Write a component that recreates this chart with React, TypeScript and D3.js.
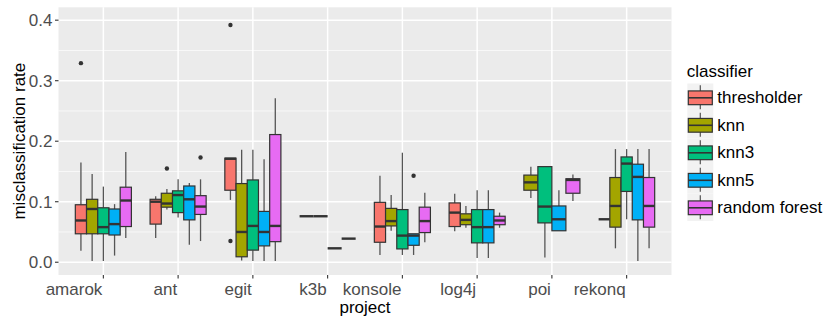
import * as d3 from "d3";

const projects = ["amarok", "ant", "egit", "k3b", "konsole", "log4j", "poi", "rekonq"];
const classifiers = ["thresholder", "knn", "knn3", "knn5", "random forest"];
const colors = ["#F8766D", "#A3A500", "#00BF7D", "#00B0F6", "#E76BF3"];

// [lower whisker, q1, median, q3, upper whisker] per project, null = no runs
const thresholder = [
  [0.019, 0.047, 0.069, 0.095, 0.165],
  [0.04, 0.063, 0.1, 0.104, 0.109],
  [0.103, 0.119, 0.171, 0.172, 0.172],
  [0.076, 0.076, 0.076, 0.076, 0.076],
  [0.012, 0.033, 0.059, 0.099, 0.143],
  [0.051, 0.059, 0.082, 0.098, 0.113],
  null,
  [0.071, 0.071, 0.071, 0.071, 0.071],
];
const knn = [
  [0.002, 0.047, 0.088, 0.104, 0.146],
  [0.087, 0.091, 0.097, 0.114, 0.121],
  [0.003, 0.009, 0.05, 0.13, 0.186],
  [0.076, 0.076, 0.076, 0.076, 0.076],
  [0.052, 0.06, 0.068, 0.089, 0.111],
  [0.057, 0.062, 0.07, 0.08, 0.093],
  [0.106, 0.119, 0.132, 0.144, 0.158],
  [0.023, 0.058, 0.093, 0.14, 0.187],
];
const knn3 = [
  [0.002, 0.047, 0.058, 0.09, 0.125],
  [0.074, 0.082, 0.111, 0.118, 0.137],
  [0.002, 0.02, 0.06, 0.136, 0.186],
  [0.023, 0.023, 0.023, 0.023, 0.023],
  [0.012, 0.022, 0.044, 0.087, 0.181],
  [0.007, 0.032, 0.058, 0.087, 0.119],
  [0.008, 0.065, 0.092, 0.158, 0.158],
  [0.071, 0.117, 0.163, 0.174, 0.187],
];
const knn5 = [
  [0.011, 0.045, 0.063, 0.088, 0.096],
  [0.029, 0.07, 0.104, 0.126, 0.131],
  [0.002, 0.027, 0.05, 0.084, 0.17],
  [0.039, 0.039, 0.039, 0.039, 0.039],
  [0.012, 0.028, 0.044, 0.047, 0.047],
  [0.007, 0.032, 0.058, 0.087, 0.119],
  [0.052, 0.052, 0.071, 0.093, 0.119],
  [0.002, 0.07, 0.141, 0.162, 0.187],
];
const randomForest = [
  [0.04, 0.059, 0.102, 0.124, 0.182],
  [0.035, 0.079, 0.092, 0.11, 0.137],
  [0.002, 0.034, 0.06, 0.211, 0.271],
  null,
  [0.033, 0.049, 0.068, 0.091, 0.115],
  [0.057, 0.062, 0.069, 0.076, 0.082],
  [0.101, 0.114, 0.136, 0.138, 0.145],
  [0.023, 0.058, 0.093, 0.14, 0.187],
];

// outliers: [project, value]
const thresholderOut = [["amarok", 0.329], ["egit", 0.392], ["egit", 0.035]];
const knnOut = [["ant", 0.155]];
const knn3Out: any[] = [];
const knn5Out = [["konsole", 0.143]];
const randomForestOut = [["ant", 0.173]];

const yTicks = [0, 0.1, 0.2, 0.3, 0.4];
const yMinor = [0.05, 0.15, 0.25, 0.35];

const series = [thresholder, knn, knn3, knn5, randomForest];
const outliers = [thresholderOut, knnOut, knn3Out, knn5Out, randomForestOut];

const W = 827;
const H = 322;
const panel = { left: 58.5, right: 671.5, top: 7.3, bottom: 275 };
const font = "'Liberation Sans', Arial, sans-serif";

const App = () => {
  const x = d3.scaleLinear().domain([0.4, 8.6]).range([panel.left, panel.right]);
  const y = d3.scaleLinear().domain([-0.0211, 0.4213]).range([panel.bottom, panel.top]);
  const unit = x(2) - x(1);

  // dodge: boxes share 0.75 of the slot among the classifiers present
  const boxes: any[] = [];
  projects.forEach((p, pi) => {
    const present = classifiers.map((c, ci) => ci).filter((ci) => series[ci][pi] != null);
    const bw = (0.75 * unit) / present.length;
    const start = x(pi + 1) - (0.75 * unit) / 2;
    present.forEach((ci, k) => {
      boxes.push({ pi, ci, x0: start + k * bw, w: bw, s: series[ci][pi] });
    });
  });

  const outPts: any[] = [];
  outliers.forEach((list, ci) => {
    list.forEach(([p, v]: any) => {
      const b = boxes.find((bb) => bb.ci === ci && projects[bb.pi] === p);
      if (b) outPts.push({ cx: b.x0 + b.w / 2, cy: y(v) });
    });
  });

  const keyX = 687.3;
  const keyW = 26;
  const keyH = 27.5;
  const keyTop = 83.5;

  return (
    <svg width={W} height={H} style={{ position: "absolute", left: 0, top: 0, background: "#fff" }}>
      <rect x={panel.left} y={panel.top} width={panel.right - panel.left} height={panel.bottom - panel.top} fill="#EBEBEB" />
      {yMinor.map((v) => (
        <line key={"mn" + v} x1={panel.left} x2={panel.right} y1={y(v)} y2={y(v)} stroke="#fff" strokeWidth={0.7} />
      ))}
      {yTicks.map((v) => (
        <line key={"mj" + v} x1={panel.left} x2={panel.right} y1={y(v)} y2={y(v)} stroke="#fff" strokeWidth={1.5} />
      ))}
      {projects.map((p, i) => (
        <line key={"vx" + p} x1={x(i + 1)} x2={x(i + 1)} y1={panel.top} y2={panel.bottom} stroke="#fff" strokeWidth={1.5} />
      ))}

      {boxes.map((b, i) => {
        const [lo, q1, med, q3, hi] = b.s;
        const cx = b.x0 + b.w / 2;
        return (
          <g key={"b" + i}>
            <line x1={cx} x2={cx} y1={y(hi)} y2={y(q3)} stroke="#555" strokeWidth={1.3} />
            <line x1={cx} x2={cx} y1={y(q1)} y2={y(lo)} stroke="#555" strokeWidth={1.3} />
            <rect x={b.x0} y={y(q3)} width={b.w} height={y(q1) - y(q3)} fill={colors[b.ci]} stroke="#333" strokeWidth={1.2} />
            <line x1={b.x0} x2={b.x0 + b.w} y1={y(med)} y2={y(med)} stroke="#333" strokeWidth={2.4} />
          </g>
        );
      })}
      {outPts.map((o, i) => (
        <circle key={"o" + i} cx={o.cx} cy={o.cy} r={2.2} fill="#333" />
      ))}

      {/* y axis */}
      {yTicks.map((v) => (
        <g key={"yt" + v}>
          <line x1={panel.left - 3.5} x2={panel.left} y1={y(v)} y2={y(v)} stroke="#333" strokeWidth={1.1} />
          <text x={panel.left - 6} y={y(v)} dy="0.35em" textAnchor="end" fontFamily={font} fontSize={17} fill="#4D4D4D">
            {d3.format(".1f")(v)}
          </text>
        </g>
      ))}
      {/* x axis: labels right-aligned on the tick */}
      {projects.map((p, i) => (
        <g key={"xt" + p}>
          <line x1={x(i + 1)} x2={x(i + 1)} y1={panel.bottom} y2={panel.bottom + 3.5} stroke="#333" strokeWidth={1.1} />
          <text x={x(i + 1) - 1} y={295} textAnchor="end" fontFamily={font} fontSize={17} fill="#4D4D4D">
            {p}
          </text>
        </g>
      ))}
      <text x={(panel.left + panel.right) / 2} y={313} textAnchor="middle" fontFamily={font} fontSize={17} fill="#000">
        project
      </text>
      <text
        transform={`translate(25,${(panel.top + panel.bottom) / 2}) rotate(-90)`}
        textAnchor="middle"
        fontFamily={font}
        fontSize={17}
        fill="#000"
      >
        misclassification rate
      </text>

      {/* legend */}
      <text x={686.7} y={77} fontFamily={font} fontSize={17} fill="#000">
        classifier
      </text>
      {classifiers.map((c, i) => {
        const ky = keyTop + i * keyH;
        const cx = keyX + keyW / 2;
        return (
          <g key={"lg" + c}>
            <rect x={keyX} y={ky} width={keyW} height={keyH} fill="#F2F2F2" />
            <line x1={cx} x2={cx} y1={ky + keyH * 0.06} y2={ky + keyH * 0.94} stroke="#555" strokeWidth={1.2} />
            <rect x={keyX + 1} y={ky + keyH * 0.27} width={keyW - 2} height={keyH * 0.5} fill={colors[i]} stroke="#333" strokeWidth={1.2} />
            <line x1={keyX + 1} x2={keyX + keyW - 1} y1={ky + keyH * 0.52} y2={ky + keyH * 0.52} stroke="#333" strokeWidth={1.6} />
            <text x={717.3} y={ky + keyH / 2} dy="0.35em" fontFamily={font} fontSize={17} fill="#000">
              {c}
            </text>
          </g>
        );
      })}
    </svg>
  );
};

export default App;
